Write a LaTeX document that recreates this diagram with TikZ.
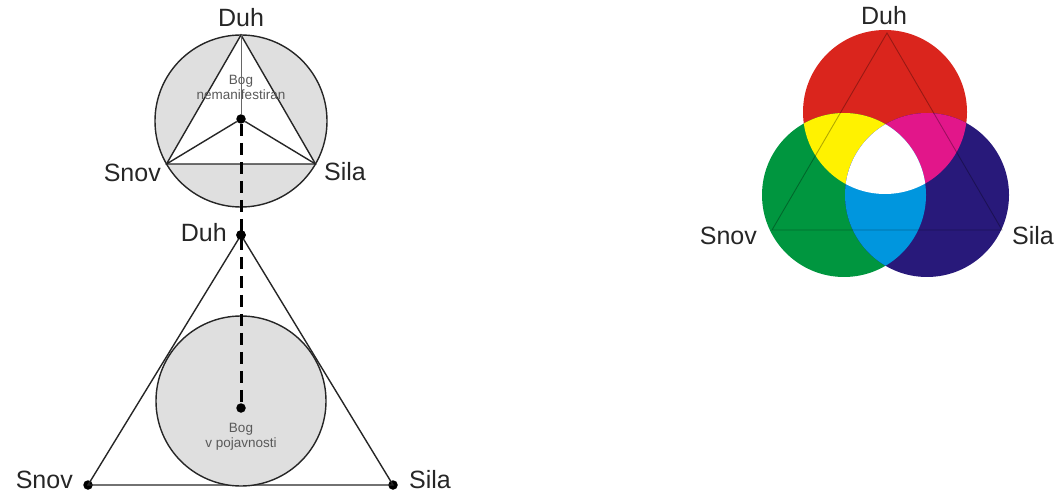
\documentclass[tikz,border=0pt]{standalone}
\usepackage{fontspec}
\setmainfont{Liberation Sans}
\definecolor{cred}{HTML}{DA251D}
\definecolor{cgreen}{HTML}{00963F}
\definecolor{cblue}{HTML}{28197A}
\definecolor{cyellow}{HTML}{FFF200}
\definecolor{cmagenta}{HTML}{E2168A}
\definecolor{ccyan}{HTML}{0096DE}
\begin{document}
\begin{tikzpicture}[x=1pt,y=-1pt,
  lbl/.style={font=\fontsize{25}{28}\selectfont, text=black!85, inner sep=0pt},
  small/.style={font=\fontsize{13.5}{15}\selectfont, text=black!65, align=center, inner sep=0pt},
  dot/.style={circle, fill=black, inner sep=0pt, minimum size=9.5pt},
  edge/.style={line width=1.4pt, draw=black!85},
  dashline/.style={line width=3pt, dash pattern=on 12pt off 7pt},
  disc/.style={fill=gray!25, draw=black!85, line width=1.4pt},
  faint/.style={draw=black, draw opacity=0.3, line width=0.9pt}]
\useasboundingbox (0,0) rectangle (1057,494);

% ---------- upper figure ----------
\coordinate (tc) at (241,121);
\coordinate (t1) at (241,35);
\coordinate (t2) at (166.5,164);
\coordinate (t3) at (315.5,164);
\draw[disc] (tc) circle (86pt);
\filldraw[fill=white, edge] (t1) -- (t2) -- (t3) -- cycle;
\node[small] (bog1) at (241,87.5) {Bog\\nemanifestiran};
\node[dot] (c1) at (241,119) {};
\draw[line width=0.6pt, black!60] (t1) -- (c1);
\draw[edge] (c1) -- (t2);
\draw[edge] (c1) -- (t3);
\node[lbl] (duh1) at (241,18) {Duh};
\node[lbl, anchor=east] (snov1) at (161,173) {Snov};
\node[lbl, anchor=west] (sila1) at (324,172) {Sila};

% ---------- lower figure ----------
\node[dot] (d2) at (241,235) {};
\node[dot] (s2) at (88,485) {};
\node[dot] (r2) at (393,485) {};
\draw[edge] (d2.center) -- (s2.center) -- (r2.center) -- cycle;
\draw[disc] (241,401) circle (85pt);
\node[small] (bog2) at (241,437) {Bog\\v pojavnosti};
\node[dot] (c2) at (241,408) {};
\draw[dashline] (c1) -- (c2);
\node[dot] at (d2) {};
\node[lbl, anchor=east] (duh2) at (227,233) {Duh};
\node[lbl, anchor=east] (snov2) at (73,480) {Snov};
\node[lbl, anchor=west] (sila2) at (409,480) {Sila};

% ---------- colour circles ----------
\coordinate (rc) at (885,112);
\coordinate (gc) at (844,195);
\coordinate (bc) at (927,195);
\fill[cred] (rc) circle (82pt);
\fill[cgreen] (gc) circle (82pt);
\fill[cblue] (bc) circle (82pt);
\begin{scope}
  \clip (rc) circle (82pt);
  \fill[cyellow] (gc) circle (82pt);
  \fill[cmagenta] (bc) circle (82pt);
\end{scope}
\begin{scope}
  \clip (gc) circle (82pt);
  \fill[ccyan] (bc) circle (82pt);
\end{scope}
\begin{scope}
  \clip (rc) circle (82pt);
  \clip (gc) circle (82pt);
  \fill[white] (bc) circle (82pt);
\end{scope}
\coordinate (a1) at (887,33);
\coordinate (a2) at (772,230);
\coordinate (a3) at (1002,230);
\draw[faint] (a1) -- (a2) -- (a3) -- cycle;
\node[lbl] (duh3) at (884,16) {Duh};
\node[lbl, anchor=east] (snov3) at (757,236) {Snov};
\node[lbl, anchor=west] (sila3) at (1012,236) {Sila};
\end{tikzpicture}
\end{document}
